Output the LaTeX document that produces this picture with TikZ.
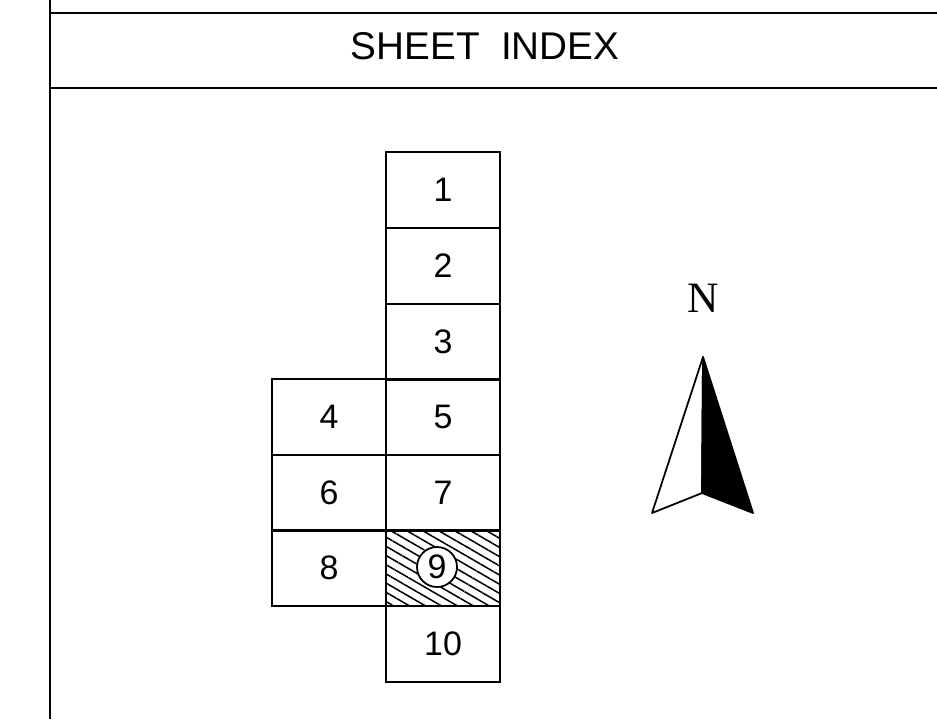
\documentclass[tikz,border=0pt]{standalone}
\usepackage{xcolor}
\usepackage{fontspec}
\setsansfont{Liberation Sans}
\newfontfamily\northfont{Liberation Serif}
\usepackage{tikz}
\usetikzlibrary{patterns.meta}

\begin{document}
\begin{tikzpicture}[
 x=0.03cm, y=-0.03cm,
 frame/.style={line width=1.6pt},
 sheet/.style={draw, line width=1.6pt, minimum width=3.42cm, minimum height=2.265cm, inner sep=0pt, font=\sffamily\fontsize{29}{29}\selectfont},
 current/.style={sheet, pattern={Lines[angle=-30,distance=6.8pt,line width=1.3pt]}},
 marker/.style={draw, circle, fill=white, line width=1.5pt, minimum size=1.2cm, inner sep=0pt, font=\sffamily\fontsize{29}{29}\selectfont}
]
\useasboundingbox (0,0) rectangle (937,719);
% title block
\draw[frame] (50,0) -- (50,719);
\draw[frame] (50,13) -- (937,13);
\draw[frame] (50,88) -- (937,88);
\node[font=\sffamily\fontsize{33}{33}\selectfont] (title) at (485,46) {SHEET\ \ INDEX};

% sheets
\node[sheet] (s1) at (443,190) {1};
\node[sheet] (s2) at (443,266) {2};
\node[sheet] (s3) at (443,342) {3};
\node[sheet] (s4) at (329,417) {4};
\node[sheet] (s5) at (443,417) {5};
\node[sheet] (s6) at (329,493) {6};
\node[sheet] (s7) at (443,493) {7};
\node[sheet] (s8) at (329,568) {8};
\node[current] (s9) at (443,568) {};
\node[sheet] (s10) at (443,644) {10};
\node[marker] (here) at (437,567) {9};

% north arrow
\node[font=\northfont\fontsize{37}{37}\selectfont] (north) at (703,298) {N};
\draw[line width=1.5pt, line join=round] (703,357) -- (652,513) -- (702,493) -- cycle;
\draw[line width=1.5pt, line join=round, fill=black] (703,357) -- (702,493) -- (753,513) -- cycle;
\end{tikzpicture}
\end{document}
